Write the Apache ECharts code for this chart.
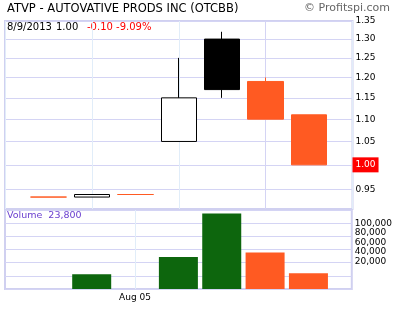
<!DOCTYPE html>
<html><head><meta charset="utf-8">
<script src="https://cdn.jsdelivr.net/npm/echarts@6/dist/echarts.min.js"></script>
<style>html,body{margin:0;padding:0;background:#fff}#c{width:395px;height:309px}</style>
</head><body><div id="c"></div>
<script>
// ---- data ----
const symbolTitle = 'ATVP - AUTOVATIVE PRODS INC (OTCBB)';
const credit = '\u00A9 Profitspi.com';
const lastDate = '8/9/2013';
const dates = ['Aug 01', 'Aug 02', 'Aug 05', 'Aug 06', 'Aug 07', 'Aug 08', 'Aug 09'];
const opens  = [0.935, 0.935, 0.94, 1.05, 1.30, 1.19, 1.11];
const closes = [0.935, 0.94, 0.94, 1.15, 1.17, 1.10, 1.00];
const lows   = [0.935, 0.935, 0.94, 1.05, 1.15, 1.10, 1.00];
const highs  = [0.935, 0.94, 0.94, 1.25, 1.32, 1.20, 1.11];
const volumes = [0, 22300, 0, 48500, 114800, 55600, 23800];
const priceTicks = [0.95, 1.00, 1.05, 1.10, 1.15, 1.20, 1.25, 1.30, 1.35];
const volumeTicks = [20000, 40000, 60000, 80000, 100000];
const labeledDates = ['Aug 05'];
const priceMin = 0.912, priceMax = 1.35;
const volumeMax = 120000;

// ---- derived ----
const ORANGE = '#ff5a22', GREEN = '#0d660d', LAV = '#d4d4f4', BLUE = '#e1edf9';
const axisCats = [''].concat(dates, ['']);
const n = dates.length;
const last = n - 1;
const lastClose = closes[last];
const change = closes[last] - closes[last - 1];
const pct = change / closes[last - 1] * 100;
function isDown(i) { return volumes[i] === 0 || (i > 0 && closes[i] < closes[i - 1]); }

const EMPTY_C = { value: ['-', '-', '-', '-'] };
const candleData = [EMPTY_C];
const volData = [{ value: '-' }];
for (let i = 0; i < n; i++) {
  let fill, border;
  if (isDown(i)) { fill = ORANGE; border = ORANGE; }
  else if (closes[i] >= opens[i]) { fill = '#ffffff'; border = '#000000'; }
  else { fill = '#000000'; border = '#000000'; }
  candleData.push({
    value: [Math.log(opens[i]), Math.log(closes[i]), Math.log(lows[i]), Math.log(highs[i])],
    itemStyle: { color: fill, color0: fill, borderColor: border, borderColor0: border }
  });
  volData.push({ value: volumes[i], itemStyle: { color: isDown(i) ? ORANGE : GREEN } });
}
candleData.push(EMPTY_C); volData.push({ value: '-' });

const vColors = axisCats.map(c => labeledDates.indexOf(c) >= 0 ? LAV : BLUE);
const FONT = 'DejaVu Sans';

const chart = echarts.init(document.getElementById('c'), null, { renderer: 'canvas' });
chart.setOption({
  animation: false,
  backgroundColor: '#ffffff',
  textStyle: { fontFamily: FONT },
  grid: [
    { left: 5, top: 21, right: 42.5, height: 188, show: true, borderColor: '#d0d0f0', borderWidth: 2, backgroundColor: 'transparent' },
    { left: 5, top: 210, right: 42.5, height: 79, show: true, borderColor: '#d0d0f0', borderWidth: 2, backgroundColor: 'transparent' }
  ],
  xAxis: [
    { type: 'category', gridIndex: 0, data: axisCats, boundaryGap: false,
      axisLine: { show: false }, axisTick: { show: false }, axisLabel: { show: false },
      splitLine: { show: true, lineStyle: { color: vColors, width: 1 } } },
    { type: 'category', gridIndex: 1, data: axisCats, boundaryGap: false,
      axisLine: { show: false }, axisTick: { show: false },
      axisLabel: { show: true, interval: (i, v) => labeledDates.indexOf(v) >= 0, color: '#000', fontSize: 9, fontFamily: FONT, margin: 4 },
      splitLine: { show: true, lineStyle: { color: vColors, width: 1 } } }
  ],
  yAxis: [
    { type: 'value', gridIndex: 0, position: 'right', min: Math.log(priceMin), max: Math.log(priceMax),
      axisLine: { show: false },
      axisTick: { show: false, customValues: priceTicks.map(Math.log) },
      splitLine: { show: true, lineStyle: { color: LAV, width: 1 } },
      axisLabel: { show: true, margin: 0, customValues: priceTicks.map(Math.log),
        formatter: v => { const p = Math.exp(v); const s = p.toFixed(2); return Math.abs(p - lastClose) < 1e-6 ? '{cur|' + s + '}' : '{n|' + s + '}'; },
        rich: {
          n: { color: '#000', fontSize: 9, fontFamily: FONT, padding: [0, 3] },
          cur: { color: '#fff', fontSize: 9, fontFamily: FONT, backgroundColor: '#ff0000', padding: [3, 3] }
        } } },
    { type: 'value', gridIndex: 1, position: 'right', min: 0, max: volumeMax, interval: 20000,
      axisLine: { show: false }, axisTick: { show: false }, axisLabel: { show: false },
      splitLine: { show: true, lineStyle: { color: LAV, width: 1 } } },
    { type: 'value', gridIndex: 1, position: 'right', min: -37860, max: 127570,
      axisLine: { show: false }, axisTick: { show: false }, splitLine: { show: false },
      axisLabel: { show: true, margin: 3, customValues: volumeTicks, color: '#000', fontSize: 9, fontFamily: FONT,
        formatter: v => v.toLocaleString('en-US') } }
  ],
  title: [
    { text: symbolTitle, left: 7, top: 3, padding: 0, textStyle: { fontSize: 11.5, fontWeight: 'normal', color: '#000', fontFamily: FONT } },
    { text: credit, right: 5, top: 3, padding: 0, textStyle: { fontSize: 11, fontWeight: 'normal', color: '#666', fontFamily: FONT } }
  ],
  graphic: [
    { type: 'text', left: 7, top: 22, style: { text: lastDate, fontSize: 10, fill: '#000', fontFamily: FONT } },
    { type: 'text', left: 56, top: 22, style: { text: lastClose.toFixed(2), fontSize: 10, fill: '#000', fontFamily: FONT } },
    { type: 'text', left: 87, top: 22, style: { text: change.toFixed(2) + ' ' + pct.toFixed(2) + '%', fontSize: 10, fill: '#ff0000', fontFamily: FONT } },
    { type: 'text', left: 7, top: 211, style: { text: 'Volume  ' + volumes[last].toLocaleString('en-US'), fontSize: 9.5, fill: '#6a3fcf', fontFamily: FONT } }
  ],
  series: [
    { type: 'candlestick', xAxisIndex: 0, yAxisIndex: 0, data: candleData, barWidth: 36,
      itemStyle: { borderWidth: 1 } },
    { type: 'bar', xAxisIndex: 1, yAxisIndex: 1, data: volData, barWidth: 39 }
  ]
});
</script></body></html>
